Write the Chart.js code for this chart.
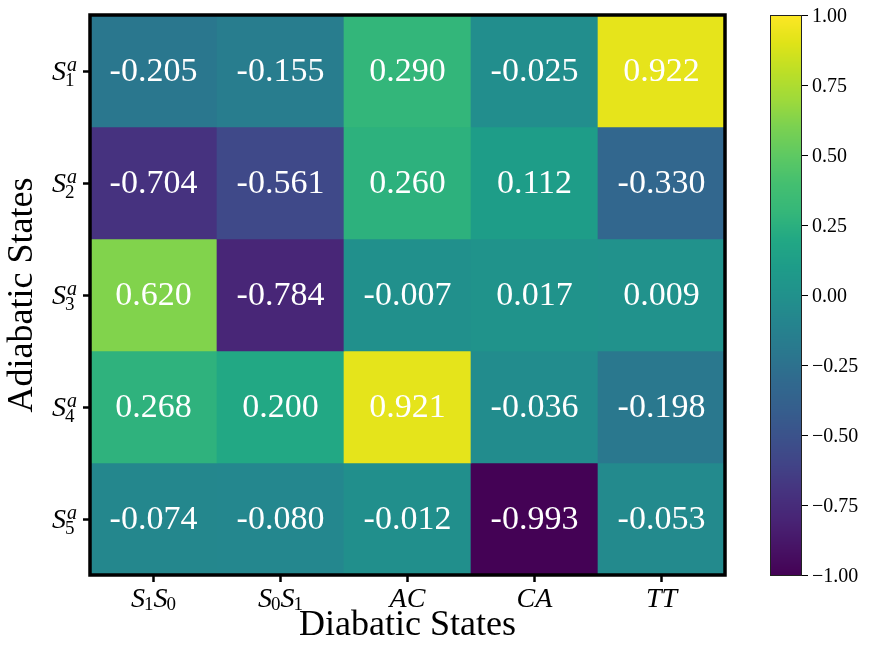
<!DOCTYPE html>
<html>
<head>
<meta charset="utf-8">
<title>Adiabatic vs Diabatic States</title>
<script src="https://cdn.jsdelivr.net/npm/chart.js@4.4.1/dist/chart.umd.min.js"></script>
<style>
  html, body { margin: 0; padding: 0; background: #fff; }
  #wrap { width: 872px; height: 654px; }
</style>
</head>
<body>
<div id="wrap"><canvas id="heat" width="872" height="654"></canvas></div>
<script>
/* ===============================
   DATA
================================ */
const diabaticLabels = ["S_1S_0", "S_0S_1", "AC", "CA", "TT"];
const adiabaticLabels = ["S_1^a", "S_2^a", "S_3^a", "S_4^a", "S_5^a"];

const rowS1 = [-0.205, -0.155, 0.290, -0.025, 0.922];
const rowS2 = [-0.704, -0.561, 0.260, 0.112, -0.330];
const rowS3 = [0.620, -0.784, -0.007, 0.017, 0.009];
const rowS4 = [0.268, 0.200, 0.921, -0.036, -0.198];
const rowS5 = [-0.074, -0.080, -0.012, -0.993, -0.053];
const heatRows = [rowS1, rowS2, rowS3, rowS4, rowS5];

const colorTicks = [1, 0.75, 0.5, 0.25, 0, -0.25, -0.5, -0.75, -1];
const vMin = -1, vMax = 1;

/* ===============================
   VIRIDIS COLORMAP
================================ */
const VIRIDIS = [
  "#440154", "#471365", "#482475", "#46337f", "#414487", "#3b528b",
  "#355f8d", "#306a8e", "#2a788e", "#25848e", "#21918c", "#1e9c89",
  "#22a884", "#35b779", "#44bf70", "#5ec962", "#7ad151", "#9fda3a",
  "#bddf26", "#dfe318", "#fde725"
];

function hexToRgb(h) {
  return [1, 3, 5].map(i => parseInt(h.slice(i, i + 2), 16));
}
const VIRIDIS_RGB = VIRIDIS.map(hexToRgb);

function viridis(v) {
  let t = (v - vMin) / (vMax - vMin);
  t = Math.max(0, Math.min(1, t));
  const pos = t * (VIRIDIS_RGB.length - 1);
  const i = Math.min(Math.floor(pos), VIRIDIS_RGB.length - 2);
  const f = pos - i;
  const a = VIRIDIS_RGB[i], b = VIRIDIS_RGB[i + 1];
  const c = a.map((x, k) => Math.round(x + (b[k] - x) * f));
  return `rgb(${c[0]},${c[1]},${c[2]})`;
}

/* ===============================
   MATH-STYLE LABELS  (S_1^a etc.)
================================ */
const FONT = '"Liberation Serif", "Times New Roman", serif';

function parseMath(s) {
  const parts = [];
  for (let i = 0; i < s.length; i++) {
    const ch = s[i];
    if (ch === "_") parts.push({ t: s[++i], kind: "sub" });
    else if (ch === "^") parts.push({ t: s[++i], kind: "sup" });
    else parts.push({ t: ch, kind: "base" });
  }
  return parts;
}

function fontFor(kind) {
  if (kind === "base") return `italic 28px ${FONT}`;
  if (kind === "sub") return `19px ${FONT}`;
  return `italic 20px ${FONT}`;
}

function layoutMath(ctx, s) {
  const parts = parseMath(s);
  const hasSup = parts.some(p => p.kind === "sup");
  let x = 0, scriptStart = null, scriptWidth = 0;
  const placed = [];
  parts.forEach(p => {
    ctx.font = fontFor(p.kind);
    const w = ctx.measureText(p.t).width;
    if (p.kind === "base") {
      if (scriptStart !== null) { x = scriptStart + scriptWidth; scriptStart = null; scriptWidth = 0; }
      placed.push({ ...p, x, dy: 0 });
      x += w;
    } else {
      if (scriptStart === null) { scriptStart = x; scriptWidth = 0; }
      const dy = p.kind === "sub" ? (hasSup ? 6 : 3) : -9;
      const off = p.kind === "sup" ? 1 : -1;
      placed.push({ ...p, x: scriptStart + off, dy });
      scriptWidth = Math.max(scriptWidth, w + off);
    }
  });
  if (scriptStart !== null) x = scriptStart + scriptWidth;
  return { placed, width: x };
}

function drawMath(ctx, s, x, baseline, align) {
  const { placed, width } = layoutMath(ctx, s);
  const x0 = align === "center" ? x - width / 2 : align === "right" ? x - width : x;
  ctx.textAlign = "left";
  ctx.textBaseline = "alphabetic";
  placed.forEach(p => {
    ctx.font = fontFor(p.kind);
    ctx.fillText(p.t, x0 + p.x, baseline + p.dy);
  });
}

function fmtCell(v) {
  return v.toFixed(3);            // hyphen minus, as in the figure
}
function fmtBar(v) {
  return v < 0 ? "\u2212" + Math.abs(v).toFixed(2) : v.toFixed(2);
}

/* ===============================
   DECORATION PLUGIN
================================ */
const heatDecor = {
  id: "heatDecor",
  afterDatasetsDraw(chart) {
    const { ctx, chartArea: a, scales: { x, y } } = chart;
    ctx.save();

    // cell values
    ctx.fillStyle = "#fff";
    ctx.font = `34px ${FONT}`;
    ctx.textAlign = "center";
    ctx.textBaseline = "middle";
    heatRows.forEach((row, r) => {
      const meta = chart.getDatasetMeta(r);
      row.forEach((v, c) => {
        const bar = meta.data[c];
        ctx.fillText(fmtCell(v), bar.x, (bar.y + bar.base) / 2 + 1);
      });
    });

    // frame
    ctx.lineWidth = 3.5;
    ctx.strokeStyle = "#000";
    ctx.strokeRect(a.left, a.top, a.right - a.left, a.bottom - a.top);

    // tick labels
    ctx.fillStyle = "#000";
    diabaticLabels.forEach((lab, i) => {
      drawMath(ctx, lab, x.getPixelForTick(i), a.bottom + 32, "center");
    });
    adiabaticLabels.forEach((lab, i) => {
      drawMath(ctx, lab, a.left - 13, y.getPixelForTick(i) + 9, "right");
    });

    // colour bar
    const cbLeft = 770, cbWidth = 32;
    const cbTop = a.top, cbBottom = a.bottom + 1;
    const cbH = cbBottom - cbTop;
    for (let py = 0; py < cbH; py++) {
      const v = vMax - (py + 0.5) / cbH * (vMax - vMin);
      ctx.fillStyle = viridis(v);
      ctx.fillRect(cbLeft, cbTop + py, cbWidth, 1);
    }
    ctx.lineWidth = 1;
    ctx.strokeStyle = "#222";
    ctx.strokeRect(cbLeft + 0.5, cbTop + 0.5, cbWidth - 1, cbH - 1);

    ctx.fillStyle = "#000";
    ctx.strokeStyle = "#000";
    ctx.font = `20px ${FONT}`;
    ctx.textAlign = "left";
    ctx.textBaseline = "middle";
    colorTicks.forEach(v => {
      const py = cbTop + (vMax - v) / (vMax - vMin) * (cbH - 1) + 0.5;
      ctx.beginPath();
      ctx.moveTo(cbLeft + cbWidth, py);
      ctx.lineTo(cbLeft + cbWidth + 6, py);
      ctx.stroke();
      ctx.fillText(fmtBar(v), cbLeft + cbWidth + 10, py + 1);
    });

    ctx.restore();
  }
};

/* ===============================
   CHART
================================ */
const datasets = heatRows.map((row, r) => ({
  label: adiabaticLabels[r],
  data: row.map(() => [r, r + 1]),
  backgroundColor: row.map(viridis),
  borderWidth: 0,
  grouped: false,
  barPercentage: 1,
  categoryPercentage: 1
}));

new Chart(document.getElementById("heat"), {
  type: "bar",
  data: { labels: diabaticLabels, datasets },
  options: {
    responsive: false,
    animation: false,
    layout: { padding: { left: 0, top: 15, right: 147, bottom: 0 } },
    plugins: {
      legend: { display: false },
      tooltip: { enabled: false }
    },
    scales: {
      x: {
        grid: { offset: false, drawOnChartArea: false, tickLength: 7, tickWidth: 2.5, color: "#000" },
        border: { display: false },
        ticks: { callback: () => "" },
        title: {
          display: true,
          text: "Diabatic States",
          color: "#000",
          font: { family: FONT, size: 36 },
          padding: { top: 0, bottom: 7 }
        },
        afterFit: s => { s.height = 79; }
      },
      y: {
        min: 0,
        max: 5,
        reverse: true,
        afterBuildTicks: s => { s.ticks = [0.5, 1.5, 2.5, 3.5, 4.5].map(v => ({ value: v })); },
        grid: { drawOnChartArea: false, tickLength: 7, tickWidth: 2.5, color: "#000" },
        border: { display: false },
        ticks: { callback: () => "" },
        title: {
          display: true,
          text: "Adiabatic States",
          color: "#000",
          font: { family: FONT, size: 36 },
          padding: { top: 1, bottom: 0 }
        },
        afterFit: s => { s.width = 90; }
      }
    }
  },
  plugins: [heatDecor]
});
</script>
</body>
</html>
